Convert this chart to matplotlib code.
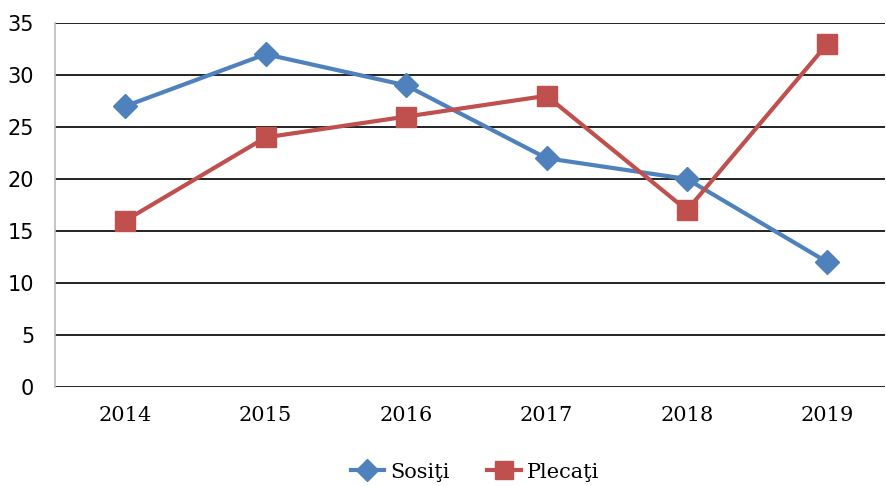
import matplotlib
matplotlib.use("Agg")
import matplotlib.pyplot as plt
from matplotlib.lines import Line2D

years = ["2014", "2015", "2016", "2017", "2018", "2019"]
sositi = [27, 32, 29, 22, 20, 12]
plecati = [16, 24, 26, 28, 17, 33]
yticks = [0, 5, 10, 15, 20, 25, 30, 35]

W, H = 887, 486
fig = plt.figure(figsize=(W / 100, H / 100), dpi=100)
ax = fig.add_axes([55 / W, 1 - 387 / H, (885 - 55) / W, (387 - 23) / H])

x = list(range(len(years)))
ax.plot(x, sositi, color="#4F81BD", lw=3.0, marker="D", ms=12, zorder=3, clip_on=False)
ax.plot(x, plecati, color="#C0504D", lw=3.0, marker="s", ms=15, zorder=3, clip_on=False)

ax.set_xlim(-0.5, 5.41)
ax.set_ylim(0, 35)
ax.set_yticks(yticks)
ax.set_xticks(x)
ax.set_xticklabels(years, family="DejaVu Serif", fontsize=15)
ax.set_yticklabels([str(v) for v in yticks], family="DejaVu Sans", fontsize=15)
ax.tick_params(axis="y", length=0, pad=15)
ax.tick_params(axis="x", length=0, pad=14)
ax.yaxis.grid(True, color="#222222", lw=1.4)
ax.set_axisbelow(True)
for s in ["top", "right", "bottom"]:
    ax.spines[s].set_visible(False)
ax.spines["left"].set_color("#BBBBBB")
ax.spines["left"].set_linewidth(1.2)

handles = [
    Line2D([], [], color="#4F81BD", lw=3.0, marker="D", ms=11),
    Line2D([], [], color="#C0504D", lw=3.0, marker="s", ms=13),
]
fig.legend(handles, ["Sosiţi", "Plecaţi"], loc="center", bbox_to_anchor=(475 / W, 1 - 472 / H),
           ncol=2, frameon=False, prop={"family": "DejaVu Serif", "size": 15},
           handlelength=1.6, columnspacing=1.8, handletextpad=0.3)

fig.savefig("out.png", dpi=100)
